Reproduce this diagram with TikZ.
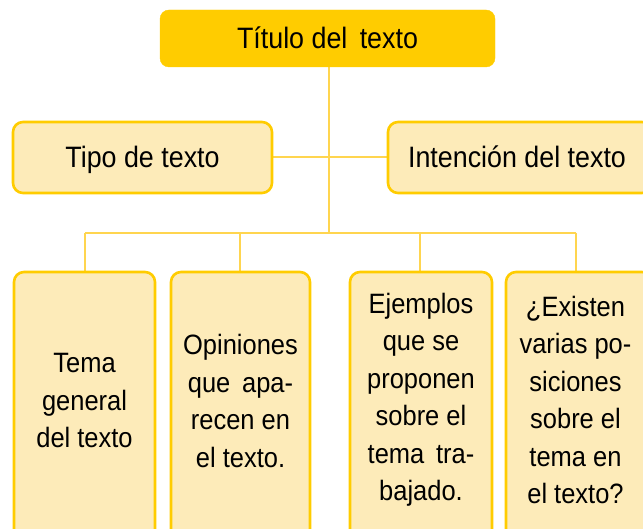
\documentclass[tikz,border=0pt]{standalone}
\usepackage{fontspec}
\setmainfont{Liberation Sans}[FakeStretch=0.91]
\definecolor{gold}{HTML}{FFCC00}
\definecolor{paleFill}{HTML}{FDEBB9}
\definecolor{lineCol}{HTML}{FFD54F}
\begin{document}
\begin{tikzpicture}[x=1pt,y=-1pt,
  titlebox/.style={fill=gold,draw=gold,rounded corners=9pt},
  midbox/.style={fill=paleFill,draw=gold,line width=2.6pt,rounded corners=10pt},
  link/.style={draw=lineCol,line width=2pt},
  lbl/.style={font=\fontsize{29.5}{36}\selectfont,align=center,inner sep=0pt,text depth=0pt},
  blbl/.style={font=\fontsize{28}{37.5}\selectfont,align=center,inner sep=0pt}]
\useasboundingbox (0,0) rectangle (643,529);
\clip (0,0) rectangle (643,529);
% connectors
\coordinate (jt) at (329,67);
\coordinate (jm) at (329,157);
\coordinate (jb) at (329,233);
\coordinate (b1t) at (85,233);
\coordinate (b2t) at (240,233);
\coordinate (b3t) at (420,233);
\coordinate (b4t) at (576,233);
\coordinate (b1) at (85,272);
\coordinate (b2) at (240,272);
\coordinate (b3) at (420,272);
\coordinate (b4) at (576,272);
\coordinate (tr) at (273,157);
\coordinate (ir) at (388,157);
\draw[link] (jt) -- (jb);
\draw[link] (tr) -- (ir);
\draw[link] (b1t) -- (b4t);
\draw[link] (b1t) -- (b1);
\draw[link] (b2t) -- (b2);
\draw[link] (b3t) -- (b3);
\draw[link] (b4t) -- (b4);
% boxes
\draw[titlebox] (160,10) rectangle (495,67);
\node[lbl] (title) at (327.5,38) {Título del\, texto};
\draw[midbox] (13,122) rectangle (272,193);
\node[lbl] (tipo) at (142.5,157) {Tipo de texto};
\draw[midbox] (388,122) rectangle (652,193);
\node[lbl] (int) at (517,157) {Intención del texto};
\draw[midbox] (14,272) rectangle (155,540);
\draw[midbox] (171,272) rectangle (310,540);
\draw[midbox] (350,272) rectangle (492,540);
\draw[midbox] (506,272) rectangle (652,540);
\node[blbl] (t1) at (84.5,401) {Tema\\general\\del texto};
\node[blbl] (t2) at (240.5,401) {Opiniones\\que\, apa-\\recen en\\el texto.};
\node[blbl] (t3) at (421,400) {Ejemplos\\que se\\proponen\\sobre el\\tema\, tra-\\bajado.};
\node[blbl] (t4) at (575.5,400) {¿Existen\\varias po-\\siciones\\sobre el\\tema en\\el texto?};
\end{tikzpicture}
\end{document}
